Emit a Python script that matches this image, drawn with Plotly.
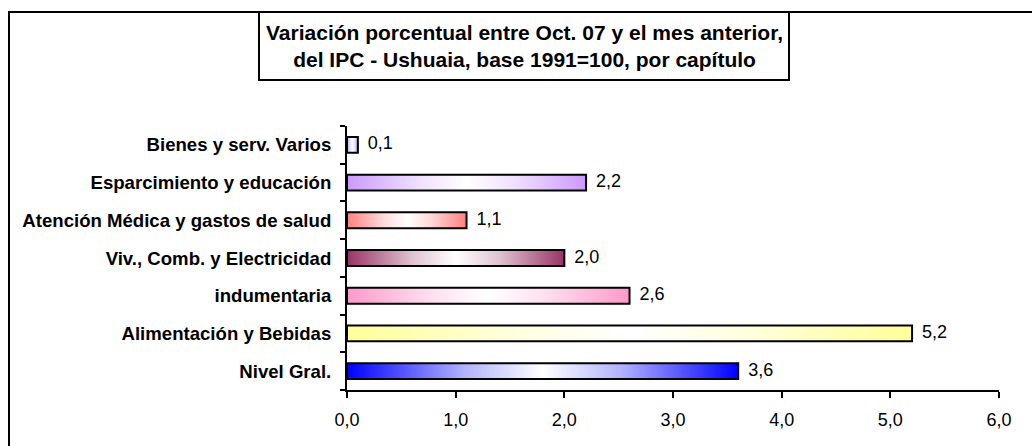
import plotly.graph_objects as go

# ---- data (bottom to top) ----
categories = [
    "Nivel Gral.",
    "Alimentación y Bebidas",
    "indumentaria",
    "Viv., Comb. y Electricidad",
    "Atención Médica y gastos de salud",
    "Esparcimiento y educación",
    "Bienes y serv. Varios",
]
values = [3.6, 5.2, 2.6, 2.0, 1.1, 2.2, 0.1]
colors = ["#0000FF", "#FFFF99", "#FF99CC", "#993366", "#FF8080", "#CC99FF", "#A8A8FF"]
x_ticks = [0, 1, 2, 3, 4, 5, 6]
title_lines = [
    "Variación porcentual entre Oct. 07 y el mes anterior,",
    "del IPC - Ushuaia, base 1991=100, por capítulo",
]

FONT = "Liberation Sans, Arial, Helvetica, sans-serif"
W, H = 1032, 446
L, R, T, B = 347, 33, 126, 56
pw, ph = W - L - R, H - T - B

half = 0.21  # half bar thickness in category units


def blend(hex_color, t):
    """Mix a colour with white (t=0 -> colour, t=1 -> white)."""
    h = hex_color.lstrip("#")
    r, g, b = (int(h[k:k + 2], 16) for k in (0, 2, 4))
    r, g, b = (round(ch + (255 - ch) * t) for ch in (r, g, b))
    return f"rgb({r},{g},{b})"


fig = go.Figure()
for i, (cat, v, c) in enumerate(zip(categories, values, colors)):
    fig.add_trace(go.Scatter(
        x=[0, v, v, 0, 0],
        y=[i - half, i - half, i + half, i + half, i - half],
        mode="lines",
        fill="toself",
        fillgradient=dict(
            type="horizontal",
            colorscale=[[0, c], [0.3, blend(c, 0.7)], [0.5, "#FFFFFF"],
                        [0.7, blend(c, 0.7)], [1, c]],
        ),
        line=dict(color="black", width=2),
        name=cat,
        hoverinfo="skip",
        showlegend=False,
    ))

fig.add_trace(go.Scatter(
    x=values,
    y=list(range(len(values))),
    mode="text",
    text=["  " + f"{v:.1f}".replace(".", ",") for v in values],
    textposition="middle right",
    textfont=dict(family=FONT, size=18, color="black"),
    showlegend=False,
    hoverinfo="skip",
    cliponaxis=False,
))

n = len(categories)
fig.update_layout(
    width=W, height=H,
    margin=dict(l=L, r=R, t=T, b=B),
    paper_bgcolor="white",
    plot_bgcolor="white",
    separators=",.",
    font=dict(family=FONT, color="black"),
    xaxis=dict(
        range=[0, 6],
        tickvals=x_ticks,
        tickformat=".1f",
        showgrid=False, zeroline=False,
        showline=True, linecolor="black", linewidth=2,
        ticks="outside", ticklen=6, tickwidth=2, tickcolor="black",
        ticklabelstandoff=6,
        tickfont=dict(family=FONT, size=18, color="black"),
        fixedrange=True,
    ),
    yaxis=dict(
        range=[-0.5, n - 0.5],
        tickvals=list(range(n)),
        ticktext=categories,
        showgrid=False, zeroline=False,
        showline=True, linecolor="black", linewidth=2,
        ticks="",
        ticklabelstandoff=10,
        tickfont=dict(family=FONT, size=18.6, color="black", weight="bold"),
        minor=dict(
            tickvals=[k - 0.5 for k in range(n + 1)],
            ticks="outside", ticklen=5, tickwidth=2, tickcolor="black",
            showgrid=False,
        ),
        fixedrange=True,
    ),
)

def px_x(p):
    return (p - L) / pw

def px_y(p):
    return (H - B - p) / ph

# outer chart border (extends beyond the visible frame on the right and bottom)
fig.add_shape(type="rect", xref="paper", yref="paper",
              x0=px_x(9), x1=px_x(1045), y0=px_y(460), y1=px_y(12),
              line=dict(color="black", width=2), fillcolor="rgba(0,0,0,0)", layer="above")
# title box
fig.add_shape(type="rect", xref="paper", yref="paper",
              x0=px_x(259), x1=px_x(789), y0=px_y(80), y1=px_y(12),
              line=dict(color="black", width=2), fillcolor="white", layer="above")
fig.add_annotation(
    xref="paper", yref="paper",
    x=px_x(524), y=px_y(46),
    xanchor="center", yanchor="middle",
    text="<br>".join(title_lines),
    showarrow=False,
    font=dict(family=FONT, size=21, color="black", weight="bold"),
    align="center",
)

fig.write_html("out.html", config={"displayModeBar": False},
               post_script="document.body.style.margin='0';")
